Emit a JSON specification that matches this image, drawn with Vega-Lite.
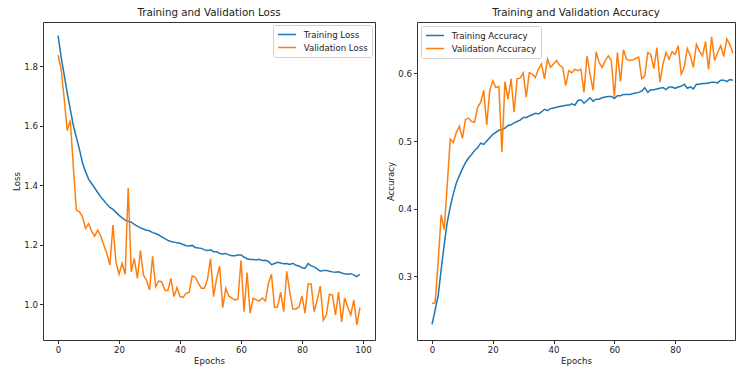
{
"$schema": "https://vega.github.io/schema/vega-lite/v6.json",
"padding": {"left": 12, "top": 7, "right": 0, "bottom": 0},
"config": {
 "font": "DejaVu Sans",
 "view": {"stroke": "#333", "strokeWidth": 1},
 "axis": {"grid": false, "domain": false, "tickColor": "#333", "tickSize": 3.5, "labelFontSize": 8.6, "titleFontSize": 8.6, "labelColor": "#222", "titleColor": "#222", "titleFontWeight": "normal", "labelPadding": 2, "titlePadding": 2},
 "title": {"fontSize": 10.3, "fontWeight": "normal", "color": "#222", "offset": 4},
 "legend": {"symbolType": "M-1,0H3", "symbolSize": 81, "symbolStrokeWidth": 1.5, "labelFontSize": 8.6, "labelColor": "#222", "labelOffset": 15.7, "padding": 4, "rowPadding": 2, "fillColor": "white", "strokeColor": "#d0d0d0", "cornerRadius": 2, "offset": 3},
 "concat": {"spacing": 10}
},
"data": {"values": [
{"epoch":0,"Training Loss":1.902,"Validation Loss":1.837,"Training Accuracy":0.229,"Validation Accuracy":0.26},
{"epoch":1,"Training Loss":1.83,"Validation Loss":1.79,"Training Accuracy":0.25,"Validation Accuracy":0.261},
{"epoch":2,"Training Loss":1.77,"Validation Loss":1.69,"Training Accuracy":0.271,"Validation Accuracy":0.32},
{"epoch":3,"Training Loss":1.71,"Validation Loss":1.583,"Training Accuracy":0.31,"Validation Accuracy":0.391},
{"epoch":4,"Training Loss":1.655,"Validation Loss":1.617,"Training Accuracy":0.347,"Validation Accuracy":0.369},
{"epoch":5,"Training Loss":1.6,"Validation Loss":1.46,"Training Accuracy":0.38,"Validation Accuracy":0.435},
{"epoch":6,"Training Loss":1.56,"Validation Loss":1.315,"Training Accuracy":0.403,"Validation Accuracy":0.503},
{"epoch":7,"Training Loss":1.52,"Validation Loss":1.31,"Training Accuracy":0.422,"Validation Accuracy":0.498},
{"epoch":8,"Training Loss":1.475,"Validation Loss":1.294,"Training Accuracy":0.438,"Validation Accuracy":0.513},
{"epoch":9,"Training Loss":1.445,"Validation Loss":1.254,"Training Accuracy":0.449,"Validation Accuracy":0.522},
{"epoch":10,"Training Loss":1.42,"Validation Loss":1.27,"Training Accuracy":0.459,"Validation Accuracy":0.504},
{"epoch":11,"Training Loss":1.405,"Validation Loss":1.244,"Training Accuracy":0.468,"Validation Accuracy":0.532},
{"epoch":12,"Training Loss":1.39,"Validation Loss":1.228,"Training Accuracy":0.475,"Validation Accuracy":0.534},
{"epoch":13,"Training Loss":1.375,"Validation Loss":1.248,"Training Accuracy":0.48,"Validation Accuracy":0.529},
{"epoch":14,"Training Loss":1.36,"Validation Loss":1.228,"Training Accuracy":0.486,"Validation Accuracy":0.528},
{"epoch":15,"Training Loss":1.348,"Validation Loss":1.198,"Training Accuracy":0.49,"Validation Accuracy":0.55},
{"epoch":16,"Training Loss":1.335,"Validation Loss":1.17,"Training Accuracy":0.497,"Validation Accuracy":0.557},
{"epoch":17,"Training Loss":1.325,"Validation Loss":1.131,"Training Accuracy":0.495,"Validation Accuracy":0.575},
{"epoch":18,"Training Loss":1.318,"Validation Loss":1.265,"Training Accuracy":0.5,"Validation Accuracy":0.524},
{"epoch":19,"Training Loss":1.308,"Validation Loss":1.14,"Training Accuracy":0.505,"Validation Accuracy":0.575},
{"epoch":20,"Training Loss":1.298,"Validation Loss":1.1,"Training Accuracy":0.51,"Validation Accuracy":0.589},
{"epoch":21,"Training Loss":1.29,"Validation Loss":1.137,"Training Accuracy":0.513,"Validation Accuracy":0.579},
{"epoch":22,"Training Loss":1.282,"Validation Loss":1.1,"Training Accuracy":0.516,"Validation Accuracy":0.581},
{"epoch":23,"Training Loss":1.278,"Validation Loss":1.39,"Training Accuracy":0.517,"Validation Accuracy":0.484},
{"epoch":24,"Training Loss":1.275,"Validation Loss":1.108,"Training Accuracy":0.519,"Validation Accuracy":0.588},
{"epoch":25,"Training Loss":1.268,"Validation Loss":1.153,"Training Accuracy":0.523,"Validation Accuracy":0.562},
{"epoch":26,"Training Loss":1.262,"Validation Loss":1.086,"Training Accuracy":0.524,"Validation Accuracy":0.592},
{"epoch":27,"Training Loss":1.256,"Validation Loss":1.18,"Training Accuracy":0.527,"Validation Accuracy":0.543},
{"epoch":28,"Training Loss":1.252,"Validation Loss":1.097,"Training Accuracy":0.529,"Validation Accuracy":0.592},
{"epoch":29,"Training Loss":1.248,"Validation Loss":1.08,"Training Accuracy":0.531,"Validation Accuracy":0.593},
{"epoch":30,"Training Loss":1.246,"Validation Loss":1.047,"Training Accuracy":0.535,"Validation Accuracy":0.601},
{"epoch":31,"Training Loss":1.24,"Validation Loss":1.16,"Training Accuracy":0.535,"Validation Accuracy":0.565},
{"epoch":32,"Training Loss":1.237,"Validation Loss":1.058,"Training Accuracy":0.537,"Validation Accuracy":0.601},
{"epoch":33,"Training Loss":1.232,"Validation Loss":1.077,"Training Accuracy":0.539,"Validation Accuracy":0.599},
{"epoch":34,"Training Loss":1.226,"Validation Loss":1.075,"Training Accuracy":0.541,"Validation Accuracy":0.594},
{"epoch":35,"Training Loss":1.22,"Validation Loss":1.047,"Training Accuracy":0.54,"Validation Accuracy":0.606},
{"epoch":36,"Training Loss":1.214,"Validation Loss":1.045,"Training Accuracy":0.543,"Validation Accuracy":0.614},
{"epoch":37,"Training Loss":1.21,"Validation Loss":1.086,"Training Accuracy":0.547,"Validation Accuracy":0.592},
{"epoch":38,"Training Loss":1.208,"Validation Loss":1.025,"Training Accuracy":0.545,"Validation Accuracy":0.621},
{"epoch":39,"Training Loss":1.206,"Validation Loss":1.055,"Training Accuracy":0.548,"Validation Accuracy":0.609},
{"epoch":40,"Training Loss":1.204,"Validation Loss":1.025,"Training Accuracy":0.549,"Validation Accuracy":0.614},
{"epoch":41,"Training Loss":1.2,"Validation Loss":1.022,"Training Accuracy":0.55,"Validation Accuracy":0.619},
{"epoch":42,"Training Loss":1.196,"Validation Loss":1.036,"Training Accuracy":0.551,"Validation Accuracy":0.612},
{"epoch":43,"Training Loss":1.195,"Validation Loss":1.04,"Training Accuracy":0.552,"Validation Accuracy":0.609},
{"epoch":44,"Training Loss":1.197,"Validation Loss":1.095,"Training Accuracy":0.553,"Validation Accuracy":0.582},
{"epoch":45,"Training Loss":1.19,"Validation Loss":1.09,"Training Accuracy":0.553,"Validation Accuracy":0.604},
{"epoch":46,"Training Loss":1.188,"Validation Loss":1.07,"Training Accuracy":0.555,"Validation Accuracy":0.601},
{"epoch":47,"Training Loss":1.187,"Validation Loss":1.053,"Training Accuracy":0.553,"Validation Accuracy":0.606},
{"epoch":48,"Training Loss":1.182,"Validation Loss":1.053,"Training Accuracy":0.56,"Validation Accuracy":0.604},
{"epoch":49,"Training Loss":1.18,"Validation Loss":1.083,"Training Accuracy":0.561,"Validation Accuracy":0.606},
{"epoch":50,"Training Loss":1.182,"Validation Loss":1.153,"Training Accuracy":0.556,"Validation Accuracy":0.572},
{"epoch":51,"Training Loss":1.176,"Validation Loss":1.025,"Training Accuracy":0.56,"Validation Accuracy":0.626},
{"epoch":52,"Training Loss":1.176,"Validation Loss":1.086,"Training Accuracy":0.564,"Validation Accuracy":0.599},
{"epoch":53,"Training Loss":1.17,"Validation Loss":1.127,"Training Accuracy":0.559,"Validation Accuracy":0.575},
{"epoch":54,"Training Loss":1.168,"Validation Loss":0.988,"Training Accuracy":0.562,"Validation Accuracy":0.632},
{"epoch":55,"Training Loss":1.17,"Validation Loss":1.053,"Training Accuracy":0.562,"Validation Accuracy":0.616},
{"epoch":56,"Training Loss":1.165,"Validation Loss":1.027,"Training Accuracy":0.564,"Validation Accuracy":0.609},
{"epoch":57,"Training Loss":1.162,"Validation Loss":1.02,"Training Accuracy":0.565,"Validation Accuracy":0.619},
{"epoch":58,"Training Loss":1.162,"Validation Loss":1.014,"Training Accuracy":0.566,"Validation Accuracy":0.626},
{"epoch":59,"Training Loss":1.165,"Validation Loss":1.016,"Training Accuracy":0.566,"Validation Accuracy":0.619},
{"epoch":60,"Training Loss":1.165,"Validation Loss":1.147,"Training Accuracy":0.563,"Validation Accuracy":0.565},
{"epoch":61,"Training Loss":1.158,"Validation Loss":0.974,"Training Accuracy":0.567,"Validation Accuracy":0.631},
{"epoch":62,"Training Loss":1.152,"Validation Loss":1.106,"Training Accuracy":0.567,"Validation Accuracy":0.588},
{"epoch":63,"Training Loss":1.15,"Validation Loss":0.969,"Training Accuracy":0.569,"Validation Accuracy":0.635},
{"epoch":64,"Training Loss":1.15,"Validation Loss":1.02,"Training Accuracy":0.569,"Validation Accuracy":0.621},
{"epoch":65,"Training Loss":1.148,"Validation Loss":1.014,"Training Accuracy":0.569,"Validation Accuracy":0.619},
{"epoch":66,"Training Loss":1.15,"Validation Loss":1.01,"Training Accuracy":0.57,"Validation Accuracy":0.62},
{"epoch":67,"Training Loss":1.146,"Validation Loss":1.02,"Training Accuracy":0.571,"Validation Accuracy":0.622},
{"epoch":68,"Training Loss":1.147,"Validation Loss":1.01,"Training Accuracy":0.572,"Validation Accuracy":0.624},
{"epoch":69,"Training Loss":1.143,"Validation Loss":1.07,"Training Accuracy":0.574,"Validation Accuracy":0.592},
{"epoch":70,"Training Loss":1.132,"Validation Loss":1.1,"Training Accuracy":0.579,"Validation Accuracy":0.596},
{"epoch":71,"Training Loss":1.136,"Validation Loss":0.988,"Training Accuracy":0.572,"Validation Accuracy":0.631},
{"epoch":72,"Training Loss":1.14,"Validation Loss":0.99,"Training Accuracy":0.576,"Validation Accuracy":0.628},
{"epoch":73,"Training Loss":1.138,"Validation Loss":1.04,"Training Accuracy":0.576,"Validation Accuracy":0.607},
{"epoch":74,"Training Loss":1.135,"Validation Loss":0.974,"Training Accuracy":0.577,"Validation Accuracy":0.638},
{"epoch":75,"Training Loss":1.136,"Validation Loss":1.11,"Training Accuracy":0.578,"Validation Accuracy":0.587},
{"epoch":76,"Training Loss":1.133,"Validation Loss":1.04,"Training Accuracy":0.579,"Validation Accuracy":0.614},
{"epoch":77,"Training Loss":1.137,"Validation Loss":0.983,"Training Accuracy":0.576,"Validation Accuracy":0.631},
{"epoch":78,"Training Loss":1.13,"Validation Loss":0.983,"Training Accuracy":0.58,"Validation Accuracy":0.621},
{"epoch":79,"Training Loss":1.128,"Validation Loss":0.99,"Training Accuracy":0.58,"Validation Accuracy":0.632},
{"epoch":80,"Training Loss":1.122,"Validation Loss":1.027,"Training Accuracy":0.578,"Validation Accuracy":0.628},
{"epoch":81,"Training Loss":1.12,"Validation Loss":0.969,"Training Accuracy":0.58,"Validation Accuracy":0.641},
{"epoch":82,"Training Loss":1.136,"Validation Loss":1.067,"Training Accuracy":0.581,"Validation Accuracy":0.599},
{"epoch":83,"Training Loss":1.128,"Validation Loss":1.067,"Training Accuracy":0.584,"Validation Accuracy":0.609},
{"epoch":84,"Training Loss":1.125,"Validation Loss":0.974,"Training Accuracy":0.578,"Validation Accuracy":0.637},
{"epoch":85,"Training Loss":1.118,"Validation Loss":1.014,"Training Accuracy":0.58,"Validation Accuracy":0.626},
{"epoch":86,"Training Loss":1.11,"Validation Loss":1.06,"Training Accuracy":0.577,"Validation Accuracy":0.609},
{"epoch":87,"Training Loss":1.113,"Validation Loss":0.946,"Training Accuracy":0.584,"Validation Accuracy":0.643},
{"epoch":88,"Training Loss":1.113,"Validation Loss":0.963,"Training Accuracy":0.584,"Validation Accuracy":0.633},
{"epoch":89,"Training Loss":1.11,"Validation Loss":1.033,"Training Accuracy":0.585,"Validation Accuracy":0.626},
{"epoch":90,"Training Loss":1.108,"Validation Loss":1.03,"Training Accuracy":0.585,"Validation Accuracy":0.647},
{"epoch":91,"Training Loss":1.107,"Validation Loss":0.963,"Training Accuracy":0.586,"Validation Accuracy":0.606},
{"epoch":92,"Training Loss":1.108,"Validation Loss":1.04,"Training Accuracy":0.587,"Validation Accuracy":0.654},
{"epoch":93,"Training Loss":1.104,"Validation Loss":0.94,"Training Accuracy":0.587,"Validation Accuracy":0.619},
{"epoch":94,"Training Loss":1.102,"Validation Loss":1.02,"Training Accuracy":0.586,"Validation Accuracy":0.631},
{"epoch":95,"Training Loss":1.1,"Validation Loss":0.99,"Training Accuracy":0.59,"Validation Accuracy":0.641},
{"epoch":96,"Training Loss":1.102,"Validation Loss":0.963,"Training Accuracy":0.59,"Validation Accuracy":0.625},
{"epoch":97,"Training Loss":1.098,"Validation Loss":1.014,"Training Accuracy":0.588,"Validation Accuracy":0.651},
{"epoch":98,"Training Loss":1.092,"Validation Loss":0.93,"Training Accuracy":0.591,"Validation Accuracy":0.643},
{"epoch":99,"Training Loss":1.1,"Validation Loss":0.988,"Training Accuracy":0.59,"Validation Accuracy":0.63}
]},
"hconcat": [
 {
  "width": 332, "height": 318,
  "title": "Training and Validation Loss",
  "transform": [{"fold": ["Training Loss", "Validation Loss"], "as": ["series", "value"]}],
  "mark": {"type": "line", "strokeWidth": 1.5, "clip": true},
  "encoding": {
   "x": {"field": "epoch", "type": "quantitative", "scale": {"domain": [-4.95, 103.95], "nice": false, "zero": false}, "axis": {"values": [0, 20, 40, 60, 80, 100], "title": "Epochs"}},
   "y": {"field": "value", "type": "quantitative", "scale": {"domain": [0.879, 1.948], "nice": false, "zero": false}, "axis": {"values": [1.0, 1.2, 1.4, 1.6, 1.8], "format": ".1f", "title": "Loss"}},
   "color": {"field": "series", "type": "nominal", "scale": {"domain": ["Training Loss", "Validation Loss"], "range": ["#1f77b4", "#ff7f0e"]}, "legend": {"orient": "top-right", "title": null}}
  }
 },
 {
  "width": 318, "height": 318,
  "title": "Training and Validation Accuracy",
  "transform": [{"fold": ["Training Accuracy", "Validation Accuracy"], "as": ["series", "value"]}],
  "mark": {"type": "line", "strokeWidth": 1.5, "clip": true},
  "encoding": {
   "x": {"field": "epoch", "type": "quantitative", "scale": {"domain": [-4.95, 99.7], "nice": false, "zero": false}, "axis": {"values": [0, 20, 40, 60, 80], "title": "Epochs"}},
   "y": {"field": "value", "type": "quantitative", "scale": {"domain": [0.206, 0.676], "nice": false, "zero": false}, "axis": {"values": [0.3, 0.4, 0.5, 0.6], "format": ".1f", "title": "Accuracy"}},
   "color": {"field": "series", "type": "nominal", "scale": {"domain": ["Training Accuracy", "Validation Accuracy"], "range": ["#1f77b4", "#ff7f0e"]}, "legend": {"orient": "top-left", "title": null, "offset": 4}}
  }
 }
],
"resolve": {"scale": {"color": "independent"}, "legend": {"color": "independent"}}
}
